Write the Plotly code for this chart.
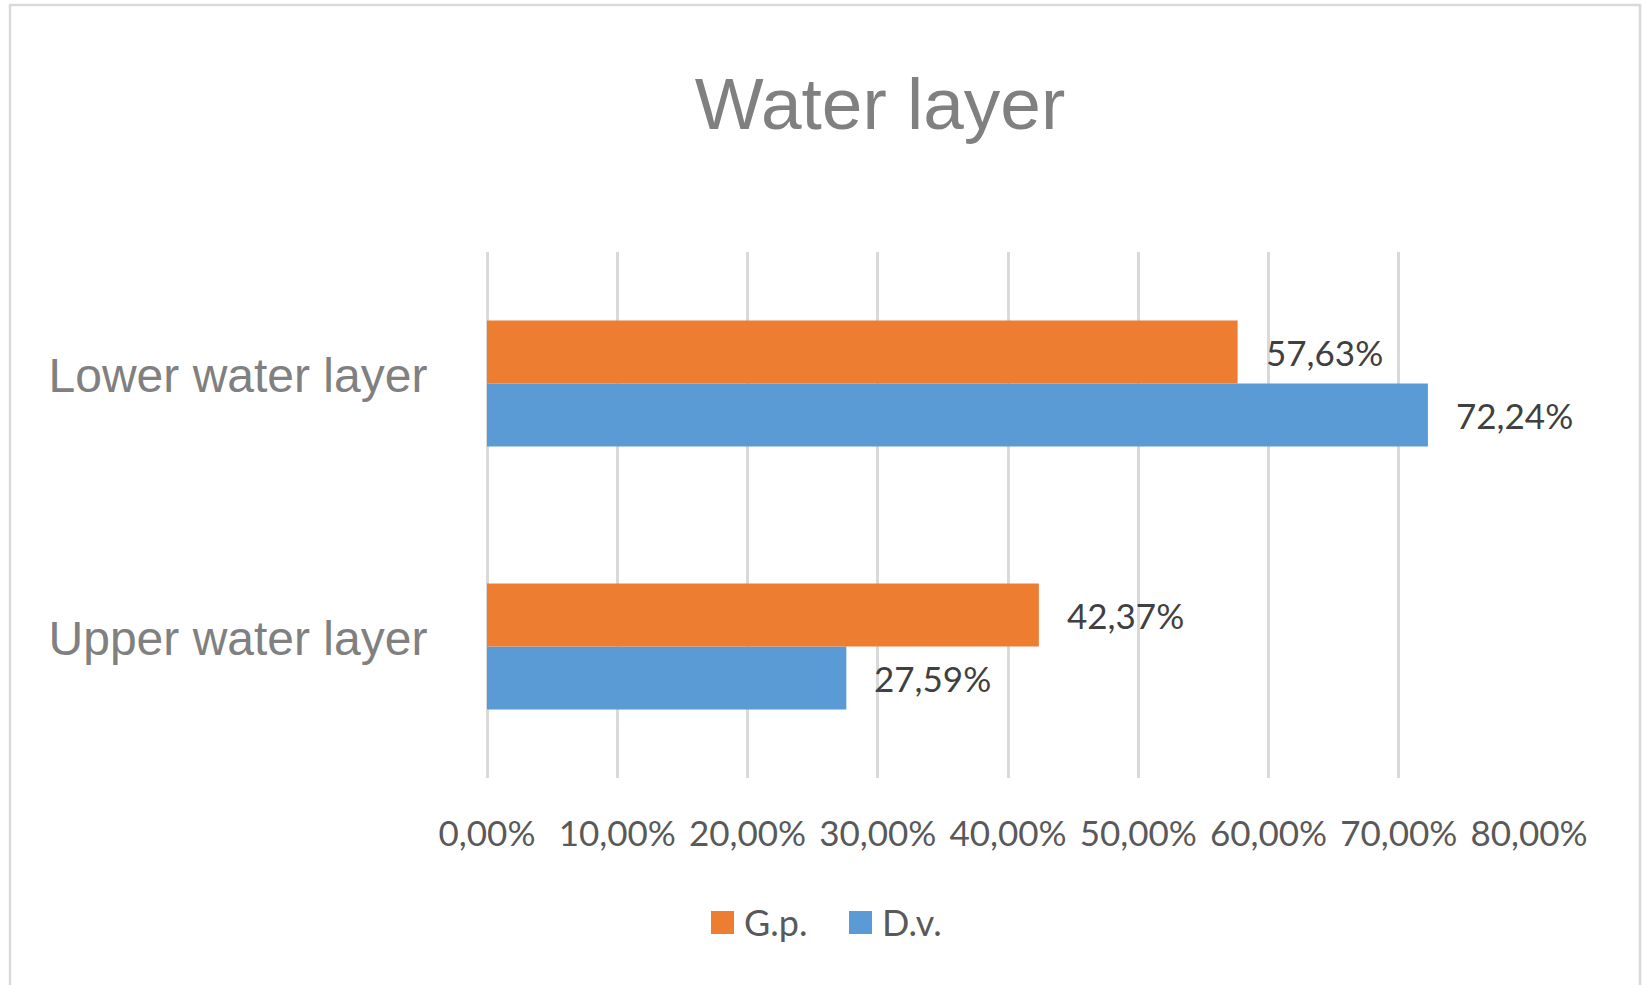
import plotly.graph_objects as go

# Chart data
layers = ["Upper water layer", "Lower water layer"]
gp_values = [0.4237, 0.5763]   # G.p.
dv_values = [0.2759, 0.7224]   # D.v.
x_ticks = [0, 0.1, 0.2, 0.3, 0.4, 0.5, 0.6, 0.7, 0.8]
series_names = ["G.p.", "D.v."]

ORANGE = "#ED7D31"
BLUE = "#5B9BD5"
GRID = "#D9D9D9"
W, H = 1642, 985
ML, MR, MT, MB = 487, 113, 252, 207
PW, PH = W - ML - MR, H - MT - MB


def px_x(px):
    """Pixel column -> paper x."""
    return (px - ML) / PW


def px_y(py):
    """Pixel row (from top) -> paper y."""
    return (H - MB - py) / PH


fig = go.Figure()

# Horizontal grouped bars go bottom-to-top in trace order, so D.v. comes first
fig.add_trace(go.Bar(
    name="D.v.", y=layers, x=dv_values, orientation="h",
    marker=dict(color=BLUE, line=dict(width=0)), showlegend=False,
))
fig.add_trace(go.Bar(
    name="G.p.", y=layers, x=gp_values, orientation="h",
    marker=dict(color=ORANGE, line=dict(width=0)), showlegend=False,
))

# Value labels just past each bar end
label_font = dict(family="Lato, Open Sans, sans-serif", size=35, color="#404040")
for vals, idx in ((dv_values, 0), (gp_values, 1)):
    for cat_i, v in enumerate(vals):
        fig.add_annotation(
            x=v, y=cat_i + (-0.12 if idx == 0 else 0.12), xref="x", yref="y",
            text=f"{v*100:.2f}%".replace(".", ","),
            showarrow=False, xanchor="left", yanchor="middle",
            xshift=26, font=label_font,
        )

# Legend below the axis: coloured squares with series names
legend_font = dict(family="Lato, Open Sans, sans-serif", size=36, color="#595959")
for name, color, sq_left in zip(series_names, (ORANGE, BLUE), (711, 849)):
    fig.add_shape(
        type="rect", xref="paper", yref="paper",
        x0=px_x(sq_left), x1=px_x(sq_left + 23),
        y0=px_y(934), y1=px_y(911),
        line=dict(width=0), fillcolor=color,
    )
    fig.add_annotation(
        x=px_x(sq_left + 31), y=px_y(922), xref="paper", yref="paper",
        text=name, showarrow=False, xanchor="left", yanchor="middle",
        font=legend_font,
    )

fig.update_layout(
    width=W, height=H,
    margin=dict(l=ML, r=MR, t=MT, b=MB),
    paper_bgcolor="white", plot_bgcolor="white",
    separators=",.",
    barmode="group", bargap=0.52, bargroupgap=0,
    title=dict(
        text="Water layer", x=880 / W, xanchor="center",
        y=1 - 103 / H, yanchor="middle", yref="container",
        font=dict(family="Liberation Sans, Arial, sans-serif", size=73, color="#808080"),
    ),
    xaxis=dict(
        range=[0, 0.8], tickvals=x_ticks, tickformat=".2%",
        showgrid=True, gridcolor=GRID, gridwidth=2.5,
        zeroline=True, zerolinecolor=GRID, zerolinewidth=2.5,
        showline=False,
        ticks="outside", ticklen=25, tickcolor="rgba(0,0,0,0)",
        tickfont=dict(family="Lato, Open Sans, sans-serif", size=35, color="#595959"),
        fixedrange=True,
    ),
    yaxis=dict(
        categoryorder="array", categoryarray=layers,
        showgrid=False, zeroline=False, showline=False,
        ticks="outside", ticklen=49, tickcolor="rgba(0,0,0,0)",
        ticklabelshift=-8,
        tickfont=dict(family="Liberation Sans, Arial, sans-serif", size=48, color="#808080"),
        fixedrange=True,
    ),
    showlegend=False,
)

# Light grey frame around the chart
fig.add_shape(
    type="rect", xref="paper", yref="paper",
    x0=px_x(10), x1=px_x(1640), y0=px_y(990), y1=px_y(5),
    line=dict(color=GRID, width=2.5), fillcolor="rgba(0,0,0,0)", layer="below",
)

fig.write_html("out.html", config={"displayModeBar": False})
